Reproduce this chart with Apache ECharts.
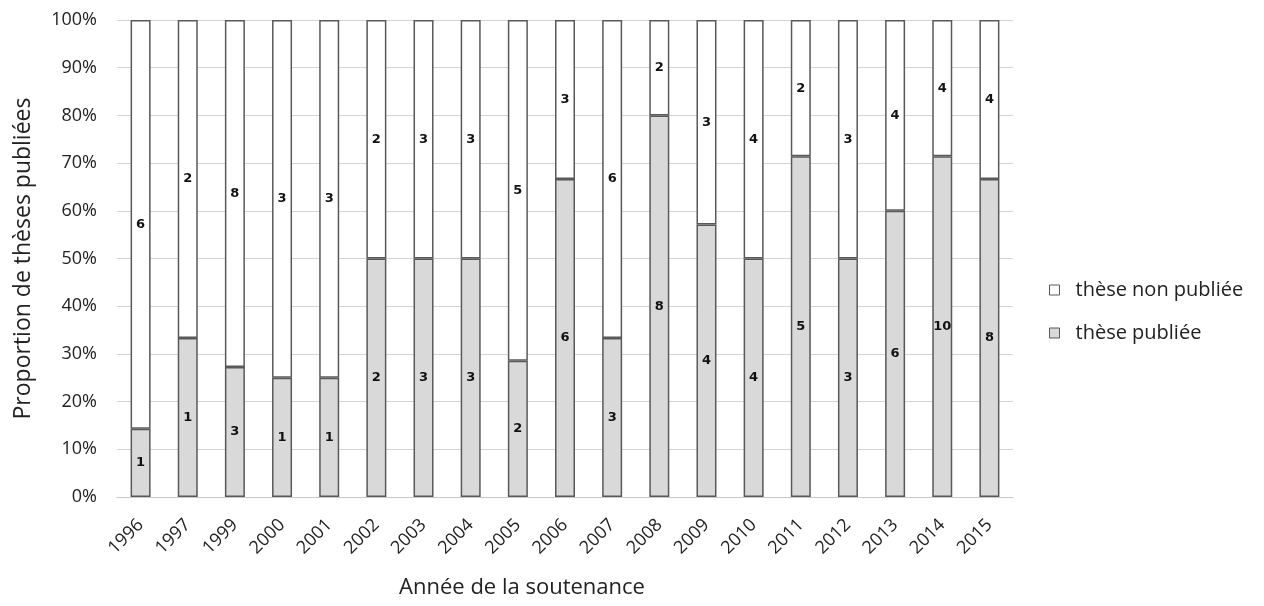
<!DOCTYPE html>
<html>
<head>
<meta charset="utf-8">
<script src="https://cdn.jsdelivr.net/npm/echarts@6/dist/echarts.min.js"></script>
<style>
  html, body { margin: 0; padding: 0; background: #fff; }
  #chart { width: 1264px; height: 606px; }
</style>
</head>
<body>
<div id="chart"></div>
<script>
// thèses par année de soutenance (1998 absent du graphique)
const years = ["1996", "1997", "1999", "2000", "2001", "2002", "2003", "2004", "2005", "2006",
  "2007", "2008", "2009", "2010", "2011", "2012", "2013", "2014", "2015"];
const publiees = [1, 1, 3, 1, 1, 2, 3, 3, 2, 6, 3, 8, 4, 4, 5, 3, 6, 10, 8];
const nonPubliees = [6, 2, 8, 3, 3, 2, 3, 3, 5, 3, 6, 2, 3, 4, 2, 3, 4, 4, 4];
const yTicks = [0, 10, 20, 30, 40, 50, 60, 70, 80, 90, 100];

// proportions (100 % empilé)
const pctOf = (arr) => arr.map((v, i) => (v / (publiees[i] + nonPubliees[i])) * 100);
const pctPub = pctOf(publiees);
const pctNon = pctOf(nonPubliees);

const FONT = "'Open Sans', 'Liberation Sans', sans-serif";
const border = "#595959";

const label = (counts) => ({
  show: true,
  position: "inside",
  fontFamily: "'DejaVu Sans', sans-serif",
  fontSize: 13,
  fontWeight: "bold",
  color: "#111",
  formatter: (p) => String(counts[p.dataIndex])
});

const chart = echarts.init(document.getElementById("chart"));
chart.setOption({
  animation: false,
  backgroundColor: "#fff",
  textStyle: { fontFamily: FONT },
  grid: { left: 117, right: 251, top: 20, bottom: 109, outerBoundsMode: "none", containLabel: false },
  legend: {
    orient: "vertical",
    left: 1044,
    top: 275,
    itemGap: 23,
    itemWidth: 10,
    itemHeight: 10,
    icon: "rect",
    textStyle: { fontFamily: FONT, fontSize: 20, color: "#222", padding: [0, 0, 0, 11] },
    data: [
      { name: "thèse non publiée", itemStyle: { color: "#fff", borderColor: border, borderWidth: 1 } },
      { name: "thèse publiée", itemStyle: { color: "#d9d9d9", borderColor: border, borderWidth: 1 } }
    ]
  },
  xAxis: {
    type: "category",
    data: years,
    name: "Année de la soutenance",
    nameLocation: "middle",
    nameGap: 80,
    nameTextStyle: { fontFamily: FONT, fontSize: 22, color: "#222", padding: [0, 86, 0, 0] },
    axisLine: { show: true, lineStyle: { color: "#c8c8c8", width: 1 } },
    axisTick: { show: false },
    axisLabel: { rotate: 45, fontFamily: FONT, fontSize: 18, color: "#222", margin: 25 }
  },
  yAxis: {
    type: "value",
    min: 0,
    max: 100,
    interval: 10,
    name: "Proportion de thèses publiées",
    nameLocation: "middle",
    nameGap: 82,
    nameTextStyle: { fontFamily: FONT, fontSize: 23, color: "#222" },
    axisLine: { show: false },
    axisTick: { show: false },
    splitLine: { lineStyle: { color: "#d4d4d4", width: 1 } },
    axisLabel: {
      fontFamily: FONT,
      fontSize: 18,
      color: "#222",
      margin: 20,
      formatter: (v) => (yTicks.includes(v) ? v + "%" : "")
    }
  },
  series: [
    {
      name: "thèse publiée",
      type: "bar",
      stack: "total",
      barWidth: 20,
      data: pctPub,
      itemStyle: { color: "#d9d9d9", borderColor: border, borderWidth: 1.5 },
      label: label(publiees)
    },
    {
      name: "thèse non publiée",
      type: "bar",
      stack: "total",
      barWidth: 20,
      data: pctNon,
      itemStyle: { color: "#fff", borderColor: border, borderWidth: 1.5 },
      label: label(nonPubliees)
    }
  ]
});
</script>
</body>
</html>
